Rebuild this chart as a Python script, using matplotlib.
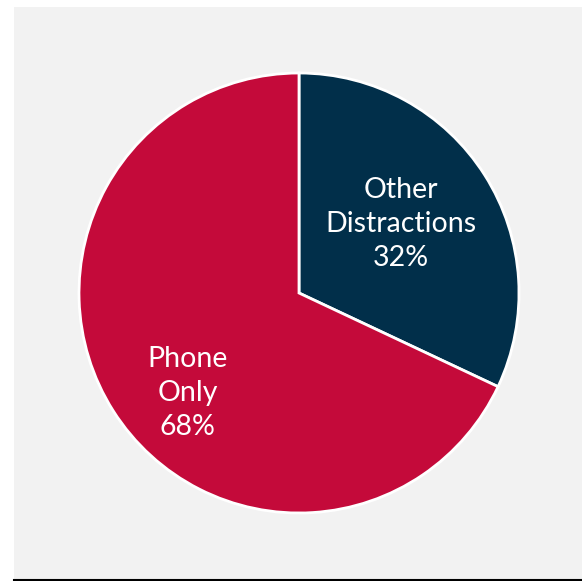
import matplotlib
matplotlib.use("Agg")
import matplotlib.pyplot as plt
from matplotlib.patches import Rectangle
from matplotlib.lines import Line2D

categories = ["Other\nDistractions", "Phone\nOnly"]
values = [32, 68]
colors = ["#012F4A", "#C40A3A"]

W, H = 582, 581
fig = plt.figure(figsize=(W/100, H/100), dpi=100)
fig.patch.set_facecolor("white")
fig.patches.append(Rectangle((14/W, 1 - 579/H), (W-14)/W, (579-7)/H,
                             transform=fig.transFigure, facecolor="#F2F2F2",
                             edgecolor="none", zorder=-10))
fig.lines.append(Line2D([14/W, 1], [1 - 579.5/H, 1 - 579.5/H], transform=fig.transFigure,
                        color="black", linewidth=1.5, zorder=-5))

cx, cy, r = 299, 293, 220
ax = fig.add_axes([(cx - r)/W, 1 - (cy + r)/H, 2*r/W, 2*r/H])
ax.set_zorder(5)
ax.set_facecolor("none")
labels = [f"{c}\n{v}%" for c, v in zip(categories, values)]
wedges, texts = ax.pie(values, colors=colors, startangle=90, counterclock=False,
                       labels=labels, labeldistance=0.55,
                       wedgeprops=dict(edgecolor="white", linewidth=2),
                       textprops=dict(color="white", fontsize=20.5, family="Lato",
                                      ha="center", va="center", linespacing=1.38))
texts[0].set_position((0.464, 0.314))
texts[1].set_position((-0.505, -0.455))
ax.set_xlim(-1, 1)
ax.set_ylim(-1, 1)
ax.set_aspect("equal")
ax.axis("off")

fig.savefig("out.png", dpi=100, facecolor=fig.get_facecolor())
